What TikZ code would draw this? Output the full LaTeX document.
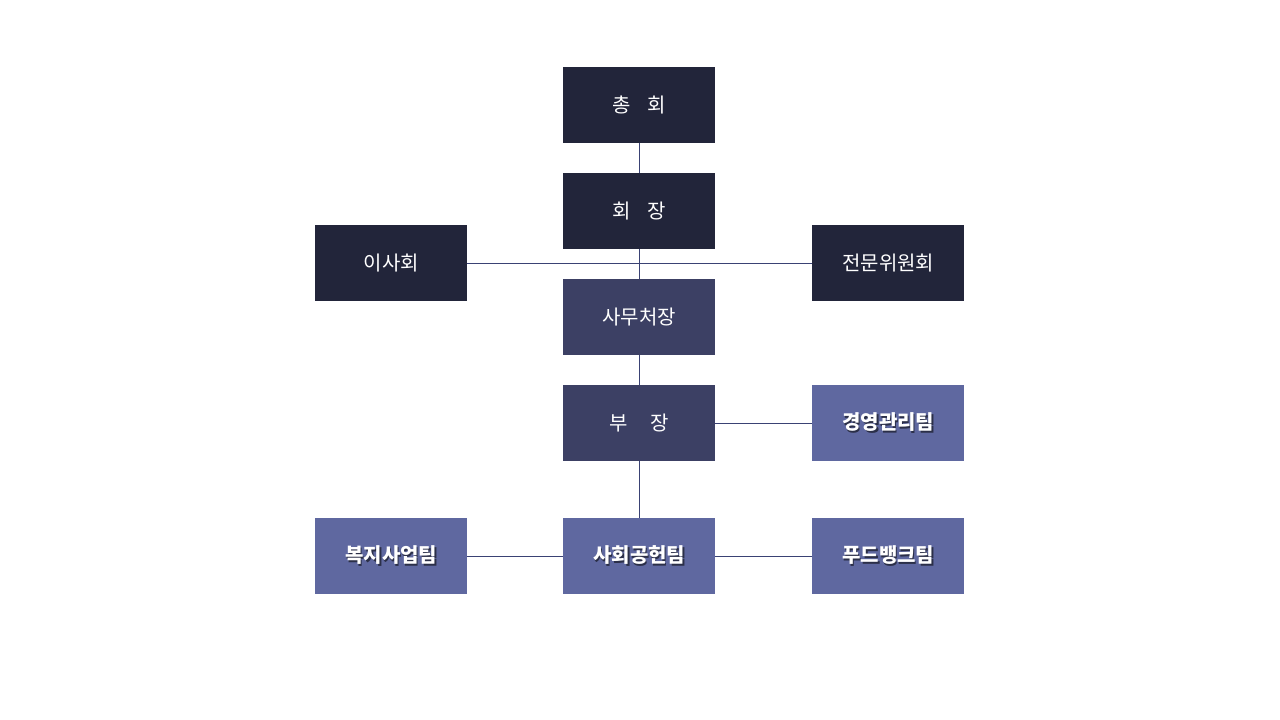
\documentclass[tikz,border=0pt]{standalone}
\usepackage{fontspec}
\newfontfamily\kr{Noto Sans CJK KR}
\usetikzlibrary{backgrounds}
\definecolor{cdark}{HTML}{22253A}
\definecolor{cmid}{HTML}{3C4064}
\definecolor{clight}{HTML}{5F68A0}
\definecolor{cline}{HTML}{3A4274}
\colorlet{cshadow}{clight!45!black}
\tikzset{
  box/.style={draw=none, minimum width=152pt, minimum height=76pt, inner sep=0pt, font=\kr\fontsize{20pt}{22pt}\selectfont, text=white, anchor=north west},
  darkbox/.style={box, fill=cdark},
  midbox/.style={box, fill=cmid},
  lightbox/.style={box, fill=clight, font=\kr\bfseries\fontsize{20pt}{22pt}\selectfont},
  conn/.style={draw=cline, line width=1pt},
}
\newcommand{\shtext}[1]{\makebox[0pt][l]{\hspace{1.5pt}\raisebox{-1.5pt}{\textcolor{cshadow}{#1}}}#1}
\begin{document}
\begin{tikzpicture}[x=1pt,y=-1pt]
\useasboundingbox (0,0) rectangle (1280,720);
% nodes (positions are top-left corners)
\node[darkbox] (chonghoe) at (563,67) {총\hspace{16pt}회};
\node[darkbox] (hoejang) at (563,173) {회\hspace{16pt}장};
\node[darkbox] (isahoe) at (315,225) {이사회};
\node[darkbox] (jeonmun) at (812,225) {전문위원회};
\node[midbox] (samu) at (563,279) {사무처장};
\node[midbox] (bujang) at (563,385) {부\hspace{22pt}장};
\node[lightbox] (gyeong) at (812,385) {\shtext{경영관리팀}};
\node[lightbox] (bokji) at (315,518) {\shtext{복지사업팀}};
\node[lightbox] (sahoe) at (563,518) {\shtext{사회공헌팀}};
\node[lightbox] (food) at (812,518) {\shtext{푸드뱅크팀}};
% connectors (drawn behind boxes)
\begin{scope}[on background layer]
\fill[white] (0,0) rectangle (1280,720);
\draw[conn] (chonghoe.south) -- (sahoe.south);
\draw[conn] (isahoe.east) -- (jeonmun.west);
\draw[conn] (bujang.east) -- (gyeong.west);
\draw[conn] (bokji.east) -- (sahoe.west);
\draw[conn] (sahoe.east) -- (food.west);
\end{scope}
\end{tikzpicture}
\end{document}
